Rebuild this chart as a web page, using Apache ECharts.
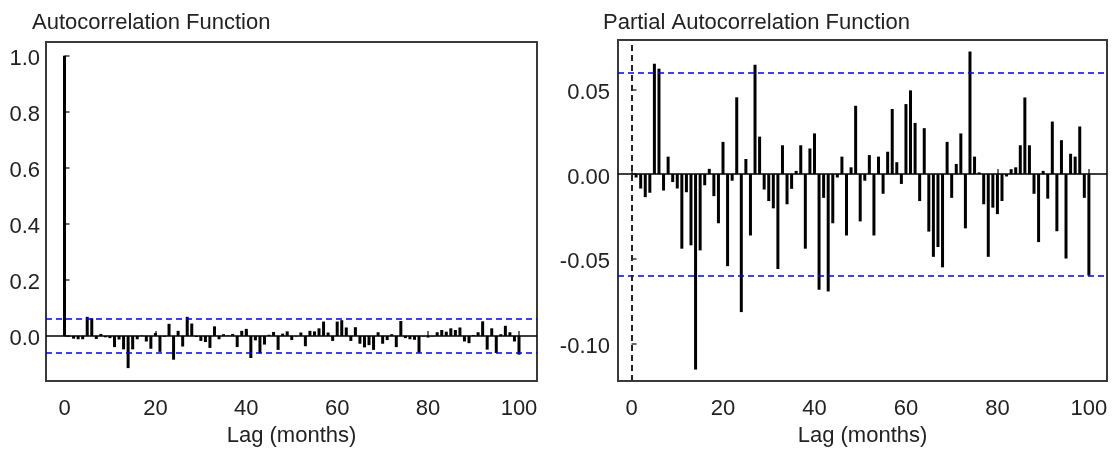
<!DOCTYPE html>
<html>
<head>
<meta charset="utf-8">
<title>ACF / PACF</title>
<script src="https://cdn.jsdelivr.net/npm/echarts@6/dist/echarts.min.js"></script>
<style>
  html, body { margin: 0; padding: 0; background: #fff; }
  #main { width: 1113px; height: 452px; }
</style>
</head>
<body>
<div id="main"></div>
<script>
/// data

// acf, index = lag (0..100)
const acfValues = [
  1.0, -0.002, -0.010, -0.012, -0.012, 0.068, 0.063, -0.011, 0.007, -0.005,
  -0.008, -0.040, -0.013, -0.048, -0.115, -0.048, -0.012, 0.002, -0.020, -0.046,
  0.010, -0.057, -0.003, 0.043, -0.085, 0.018, -0.038, 0.068, 0.044, -0.004,
  -0.018, -0.022, -0.043, 0.034, -0.012, 0.006, 0.002, 0.007, -0.040, 0.018,
  0.025, -0.079, -0.016, -0.062, -0.031, 0.004, 0.014, -0.050, 0.008, 0.016,
  -0.015, -0.002, 0.012, -0.037, 0.018, 0.016, 0.027, 0.051, 0.012, -0.018,
  0.051, 0.056, 0.030, -0.018, 0.031, -0.028, -0.041, -0.033, -0.050, 0.013,
  -0.028, -0.015, 0.006, -0.040, 0.053, -0.008, -0.012, -0.014, -0.060, -0.002,
  -0.006, -0.002, 0.013, 0.021, 0.015, 0.027, 0.021, 0.030, -0.020, -0.026,
  0.003, 0.013, 0.052, -0.049, 0.027, -0.061, 0.006, 0.036, 0.013, -0.020,
  -0.067
]

// pacf, lags 1..100
const pacfValues = [
  -0.002, -0.0085, -0.0136, -0.011, 0.0651, 0.0622, -0.0097, 0.0103, -0.0047, -0.0085,
  -0.044, -0.0107, -0.042, -0.1153, -0.045, -0.0066, 0.0031, -0.013, -0.029, 0.019,
  -0.0543, -0.0039, 0.0453, -0.0814, 0.0089, -0.0362, 0.0645, 0.0221, -0.0091, -0.0159,
  -0.0202, -0.056, 0.017, -0.0178, -0.0087, 0.0019, 0.017, -0.044, 0.0151, 0.024,
  -0.0682, -0.014, -0.0692, -0.029, -0.002, 0.0103, -0.0362, 0.004, 0.0403, -0.0279,
  -0.0039, 0.0112, -0.0362, 0.0103, -0.0116, 0.0132, 0.0384, 0.007, -0.0058, 0.0413,
  0.0494, 0.0302, -0.0159, 0.0271, -0.0339, -0.0488, -0.043, -0.055, 0.019, -0.014,
  0.006, 0.024, -0.032, 0.0723, 0.0103, 0.001, -0.0178, -0.0488, -0.0198, -0.0236,
  -0.0159, -0.0014, 0.0029, 0.004, 0.017, 0.0452, 0.017, -0.0116, -0.0401, 0.0019,
  -0.0145, 0.031, -0.0337, 0.02, -0.0498, 0.012, 0.0103, 0.0281, -0.014, -0.0599
]

const confBound = 0.058
const lagTicks = [0, 20, 40, 60, 80, 100]
const acfTicks = [0, 0.2, 0.4, 0.6, 0.8, 1.0]
const pacfTicks = [-0.1, -0.05, 0, 0.05]


/// helpers

const FONT = "'Liberation Sans', Arial, sans-serif"
const TXT = '#222'
const FRAME = '#3a3a3a'
const BLUE = '#0000f0'

function xAxis(gridIndex, min, max) {
  return {
    type: 'value', gridIndex, min, max,
    axisLine: { show: false },
    splitLine: { show: false },
    axisTick: { inside: true, length: 5, customValues: lagTicks, lineStyle: { color: FRAME, width: 1.5 } },
    axisLabel: { customValues: lagTicks, margin: 17, fontSize: 22, fontFamily: FONT, color: TXT },
    name: 'Lag (months)', nameLocation: 'middle', nameGap: 41,
    nameTextStyle: { fontSize: 22, fontFamily: FONT, color: TXT }
  }
}

// labels sit a few px below their tick, like the source plot
function yAxis(gridIndex, min, max, ticks, digits, margin) {
  return {
    type: 'value', gridIndex, min, max,
    axisLine: { show: false },
    splitLine: { show: false },
    axisTick: { inside: true, length: 5, customValues: ticks, lineStyle: { color: FRAME, width: 1.5 } },
    axisLabel: {
      customValues: ticks, margin, fontSize: 22, fontFamily: FONT, color: TXT,
      verticalAlign: 'top', lineHeight: 7,
      formatter: v => v.toFixed(digits)
    }
  }
}

function bounds(extra) {
  const lines = [
    { yAxis: 0, lineStyle: { color: '#000', type: 'solid', width: 1.5 } },
    { yAxis: confBound, lineStyle: { color: BLUE, type: [6, 4], width: 1.5 } },
    { yAxis: -confBound, lineStyle: { color: BLUE, type: [6, 4], width: 1.5 } }
  ]
  return {
    silent: true, symbol: 'none', label: { show: false },
    data: lines.concat(extra || [])
  }
}


/// chart

const chart = echarts.init(document.getElementById('main'), null, { renderer: 'canvas' })

chart.setOption({
  animation: false,
  backgroundColor: '#fff',
  title: [
    { text: 'Autocorrelation Function', left: 27, top: 7,
      textStyle: { fontSize: 22, fontWeight: 'normal', fontFamily: FONT, color: TXT } },
    { text: 'Partial Autocorrelation Function', left: 598, top: 7,
      textStyle: { fontSize: 22, fontWeight: 'normal', fontFamily: FONT, color: TXT } }
  ],
  grid: [
    { left: 46, top: 42, width: 491, height: 345, show: true, borderColor: FRAME, borderWidth: 2 },
    { left: 618, top: 40, width: 489, height: 346, show: true, borderColor: FRAME, borderWidth: 2 }
  ],
  xAxis: [xAxis(0, -4.07, 103.96), xAxis(1, -2.96, 103.96)],
  yAxis: [
    yAxis(0, -0.1614, 1.049, acfTicks, 1, 6),
    yAxis(1, -0.1221, 0.0791, pacfTicks, 2, 8)
  ],
  series: [
    {
      type: 'bar', xAxisIndex: 0, yAxisIndex: 0, barWidth: 3,
      itemStyle: { color: '#000' },
      data: acfValues.map((v, i) => [i, v]),
      markLine: bounds()
    },
    {
      type: 'bar', xAxisIndex: 1, yAxisIndex: 1, barWidth: 3,
      itemStyle: { color: '#000' },
      data: pacfValues.map((v, i) => [i + 1, v]),
      markLine: bounds([{ xAxis: 0, lineStyle: { color: '#222', type: [6, 4], width: 2 } }])
    }
  ]
})
</script>
</body>
</html>
